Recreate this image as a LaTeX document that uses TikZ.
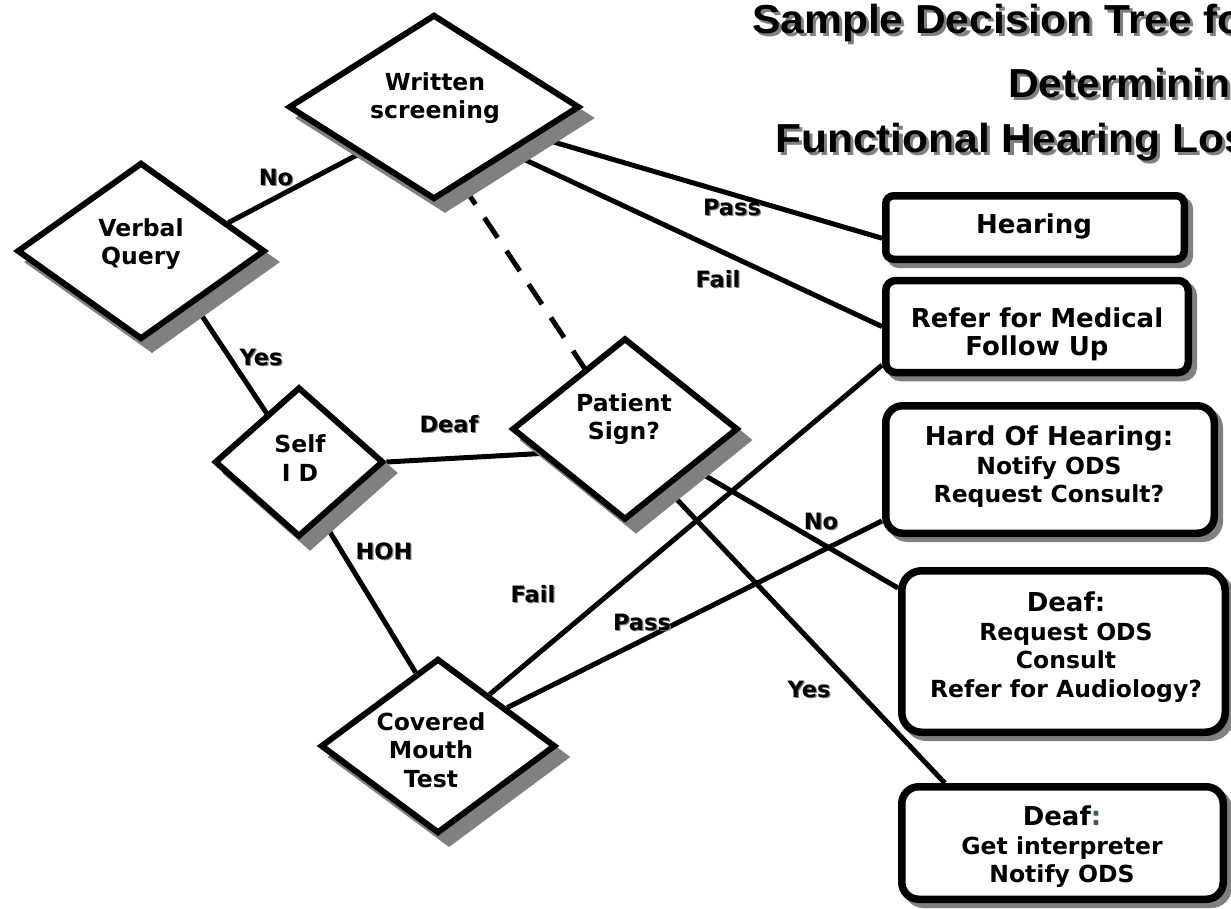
\documentclass[tikz,border=0pt]{standalone}
\usepackage{fontspec}
\setmainfont{DejaVu Sans}
\newfontfamily\titlefont{Liberation Sans}
\usetikzlibrary{shapes.geometric,shadows,backgrounds}
\definecolor{shade}{gray}{0.5}
\definecolor{colongreen}{rgb}{0.2,0.4,0.2}
\newcommand\shadowed[2]{\rlap{\kern#1\raisebox{-#1}{\textcolor{shade}{#2}}}#2}
\newcommand\titleline[1]{\scalebox{1.05}[1]{\shadowed{3pt}{#1}}}
\tikzset{
  dec/.style = {diamond, draw = black, fill = white, line width = 6pt, inner sep = 0pt,
    drop shadow = {shadow xshift = 11pt, shadow yshift = -11pt, fill = shade, draw = shade, opacity = 1}},
  res/.style = {rectangle, draw = black, fill = white, line width = 7.5pt, inner sep = 0pt,
    drop shadow = {shadow xshift = 5pt, shadow yshift = -5pt, fill = shade, draw = shade, opacity = 1}},
  txt/.style = {align = center, inner sep = 0pt, font = \bfseries\fontsize{23.5}{28.5}\selectfont},
  big/.style = {font = \bfseries\fontsize{26}{28}\selectfont},
  lbl/.style = {anchor = base, inner sep = 0pt, font = \bfseries\fontsize{22.5}{27}\selectfont},
  ttl/.style = {anchor = base west, inner sep = 0pt, font = \titlefont\bfseries\fontsize{40.5}{40.5}\selectfont},
  link/.style = {line width = 5pt},
}
\begin{document}
\begin{tikzpicture}[x = 1pt, y = -1pt]
\useasboundingbox (0,0) rectangle (1231,908);
\clip (0,0) rectangle (1231,908);
\node[ttl] (title1) at (752,33) {\titleline{Sample Decision Tree for}};
\node[ttl] (title2) at (1008,97) {\titleline{Determining}};
\node[ttl] (title3) at (775,152) {\titleline{Functional Hearing Loss}};
\node[dec, minimum width = 291pt, minimum height = 185pt] (ws) at (434,107) {};
\node[dec, minimum width = 248pt, minimum height = 177pt] (vq) at (141,251) {};
\node[dec, minimum width = 169pt, minimum height = 150pt] (sid) at (299,462) {};
\node[dec, minimum width = 226pt, minimum height = 182pt] (ps) at (625,429) {};
\node[dec, minimum width = 235pt, minimum height = 175pt] (cmt) at (438,746) {};
\node[txt] (ws-t) at (435,98) {Written\\screening};
\node[txt] (vq-t) at (141,244) {Verbal\\Query};
\node[txt] (sid-t) at (300,458) {Self\\I D};
\node[txt] (ps-t) at (624,419) {Patient\\Sign?};
\node[txt] (cmt-t) at (431,750) {Covered\\Mouth\\Test};
\node[res, minimum width = 298.5pt, minimum height = 63.5pt, rounded corners = 8pt] (hear) at (1035,227.5) {};
\node[res, minimum width = 302.5pt, minimum height = 92pt, rounded corners = 10pt] (refer) at (1037,326.5) {};
\node[res, minimum width = 328.5pt, minimum height = 127.5pt, rounded corners = 17pt] (hoh) at (1050,469.5) {};
\node[res, minimum width = 323.5pt, minimum height = 161.5pt, rounded corners = 20pt] (deafno) at (1063.5,651.5) {};
\node[res, minimum width = 321.5pt, minimum height = 112.5pt, rounded corners = 17pt] (deafyes) at (1062.5,843) {};
\node[txt, big] (hear-t) at (1034,226.5) {Hearing};
\node[txt, big] (refer-t) at (1037,334) {Refer for Medical\\Follow Up};
\node[txt] (hoh-t) at (1049,467) {{\fontsize{26}{28}\selectfont Hard Of Hearing:}\\Notify ODS\\Request Consult?};
\node[txt] (deafno-t) at (1066,647) {{\fontsize{26}{28}\selectfont Deaf:}\\Request ODS\\Consult\\Refer for Audiology?};
\node[txt] (deafyes-t) at (1062,847) {{\fontsize{26}{28}\selectfont Deaf{\color{colongreen}:}}\\Get interpreter\\Notify ODS};
\foreach \t/\x/\y [count = \i] in {No/276/185, Yes/261/365, Pass/732/215, Fail/718/287, Deaf/449/432, HOH/384/559, Fail/533/602, Pass/642/630, No/821/529, Yes/809/697}
  \node[lbl] (lab\i) at (\x,\y) {\shadowed{1.2pt}{\t}};
\begin{pgfonlayer}{background}
\draw[link] (vq.18) -- (ws.212);
\draw[link] (ws.center) -- (hear.184);
\draw[link] (ws.-31) -- (refer.west);
\draw[link, dash pattern = on 24pt off 16pt] (ws.-70) -- (ps.center);
\draw[link] (vq.-45) -- (sid.center);
\draw[link] (sid.east) -- (ps.196);
\draw[link] (sid.-68) -- (cmt.107);
\draw[link] (ps.center) -- (deafno.159);
\draw[link] (ps.-55) -- (deafyes.153);
\draw[link] (cmt.45) -- (refer.194);
\draw[link] (cmt.29) -- (hoh.197);
\end{pgfonlayer}
\end{tikzpicture}
\end{document}
